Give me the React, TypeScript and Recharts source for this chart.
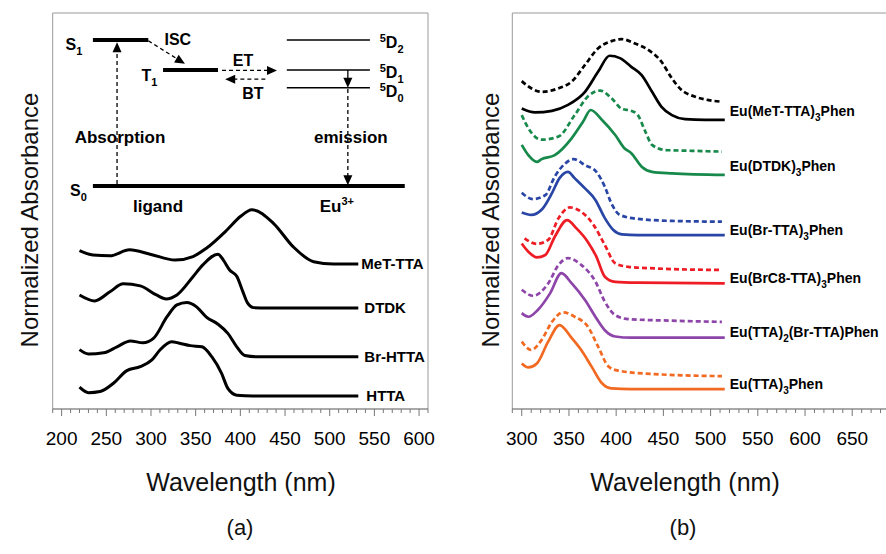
import React from "react";
import { LineChart, Line, XAxis, YAxis, ReferenceLine, ReferenceDot } from "recharts";

const FONT = "'Liberation Sans', Arial, Helvetica, sans-serif";

// ---- panel (a): ligand absorption, offset stacks ----
const mettaWl = [220, 235, 254, 276, 299, 327, 347, 362, 385, 400, 413, 437, 459, 482, 504, 532];
const mettaAbs = [40.0, 38.9, 38.7, 40.2, 39.1, 37.6, 38.5, 40.6, 45.2, 48.6, 50.3, 46.9, 41.0, 37.2, 36.6, 36.6];
const dtdkWl = [220, 237, 254, 269, 288, 306, 317, 329, 347, 358, 375, 381, 388, 396, 403, 408, 415, 430, 532];
const dtdkAbs = [28.8, 27.3, 29.6, 31.6, 31.1, 28.8, 27.8, 28.8, 33.4, 36.4, 39.1, 37.6, 35.1, 33.5, 29.5, 26.8, 25.6, 25.5, 25.5];
const brhttaWl = [220, 230, 247, 262, 277, 291, 303, 318, 329, 340, 351, 362, 375, 386, 396, 405, 418, 532];
const brhttaAbs = [15.0, 13.9, 14.2, 15.7, 17.2, 16.7, 17.9, 23.3, 26.3, 26.9, 25.8, 23.2, 21.4, 19.1, 15.7, 13.5, 13.2, 13.2];
const httaWl = [220, 230, 243, 258, 273, 288, 301, 310, 323, 332, 344, 357, 368, 379, 386, 396, 414, 532];
const httaAbs = [5.5, 4.1, 4.4, 6.5, 9.7, 10.7, 12.4, 14.9, 17.0, 16.6, 16.0, 15.7, 13.2, 9.0, 5.2, 3.5, 3.3, 3.3];
const ligandNames = ["MeT-TTA", "DTDK", "Br-HTTA", "HTTA"];

// ---- panel (b): Eu complexes, solid + dashed pairs ----
const metDashWl = [300, 310, 321, 339, 353, 367, 381, 395, 406, 420, 434, 448, 459, 469, 483, 498, 512];
const metDashAbs = [82.8, 81.0, 80.1, 81.0, 82.7, 86.9, 91.1, 92.9, 93.4, 92.3, 90.7, 87.7, 83.5, 80.6, 78.9, 78.0, 77.6];
const metWl = [300, 314, 332, 349, 367, 381, 393, 404, 416, 427, 438, 448, 459, 473, 494, 515];
const metAbs = [75.9, 74.9, 75.3, 76.8, 80.1, 85.2, 89.2, 88.6, 86.4, 84.3, 80.1, 76.3, 74.2, 73.2, 73.0, 73.0];
const dtdkDashWl = [300, 307, 321, 339, 356, 370, 383, 395, 406, 416, 423, 431, 438, 452, 480, 512];
const dtdkDashAbs = [74.2, 70.9, 68.0, 68.8, 74.2, 78.9, 80.4, 78.5, 75.8, 75.3, 74.2, 70.0, 66.7, 65.4, 65.2, 65.0];
const dtdkCWl = [300, 307, 316, 321, 335, 353, 365, 373, 385, 399, 409, 416, 427, 438, 459, 515];
const dtdkCAbs = [66.7, 64.1, 62.4, 63.1, 64.1, 68.4, 72.6, 75.5, 73.0, 69.2, 65.8, 64.6, 61.2, 59.9, 59.5, 59.1];
const brDashWl = [300, 312, 325, 335, 346, 355, 367, 379, 388, 395, 404, 423, 459, 512];
const brDashAbs = [54.6, 53.0, 54.0, 58.7, 62.0, 63.1, 61.6, 59.9, 56.1, 51.9, 49.0, 48.0, 47.5, 47.3];
const brWl = [300, 310, 321, 332, 340, 349, 356, 367, 378, 388, 397, 406, 423, 515];
const brAbs = [49.6, 49.0, 50.3, 54.5, 58.3, 59.9, 58.3, 55.7, 52.8, 48.2, 45.2, 44.1, 43.9, 43.9];
const brc8DashWl = [303, 316, 328, 339, 351, 363, 376, 388, 399, 413, 441, 512];
const brc8DashAbs = [43.1, 41.7, 42.7, 48.2, 50.9, 49.8, 46.5, 41.4, 36.8, 35.9, 35.5, 35.1];
const brc8Wl = [300, 307, 316, 325, 335, 348, 358, 370, 379, 388, 399, 423, 515];
const brc8Abs = [41.8, 39.7, 38.3, 38.9, 43.5, 47.7, 45.6, 42.2, 38.5, 33.4, 32.1, 31.9, 31.7];
const mixDashWl = [300, 312, 328, 339, 349, 363, 378, 388, 399, 413, 459, 512];
const mixDashAbs = [30.1, 28.6, 31.7, 36.4, 38.1, 36.4, 32.2, 27.1, 23.7, 22.7, 22.3, 22.0];
const mixWl = [300, 307, 317, 330, 342, 353, 367, 378, 388, 399, 416, 515];
const mixAbs = [24.2, 23.3, 25.0, 29.2, 34.3, 31.7, 27.5, 23.3, 19.9, 18.3, 18.0, 18.0];
const ttaDashWl = [300, 310, 321, 332, 344, 356, 370, 381, 392, 402, 441, 512];
const ttaDashAbs = [17.0, 14.9, 17.4, 22.0, 24.4, 23.3, 20.8, 15.7, 10.7, 9.7, 8.8, 8.3];
const ttaWl = [300, 307, 316, 328, 340, 353, 363, 374, 385, 395, 416, 515];
const ttaAbs = [11.5, 10.5, 11.5, 17.0, 21.2, 17.9, 14.9, 10.7, 6.5, 5.2, 5.0, 5.0];

const majorA = [200, 250, 300, 350, 400, 450, 500, 550, 600];
const majorB = [300, 350, 400, 450, 500, 550, 600, 650];
const minorA = Array.from({ length: 43 }, (_, i) => 190 + i * 10);
const minorB = Array.from({ length: 41 }, (_, i) => 290 + i * 10);

const pts = (wl: number[], ab: number[]) => wl.map((x, i) => ({ x, y: ab[i] }));

const panelA = [
  pts(mettaWl, mettaAbs),
  pts(dtdkWl, dtdkAbs),
  pts(brhttaWl, brhttaAbs),
  pts(httaWl, httaAbs),
];
const labelDxA = [3, 6, 6, 8];

const complexes = [
  { name: "Eu(MeT-TTA)", sub: "3", tail: "Phen", color: "#000000", solid: pts(metWl, metAbs), dash: pts(metDashWl, metDashAbs), dy: -4 },
  { name: "Eu(DTDK)", sub: "3", tail: "Phen", color: "#17894b", solid: pts(dtdkCWl, dtdkCAbs), dash: pts(dtdkDashWl, dtdkDashAbs), dy: -4 },
  { name: "Eu(Br-TTA)", sub: "3", tail: "Phen", color: "#2946a6", solid: pts(brWl, brAbs), dash: pts(brDashWl, brDashAbs), dy: 0 },
  { name: "Eu(BrC8-TTA)", sub: "3", tail: "Phen", color: "#ee1c24", solid: pts(brc8Wl, brc8Abs), dash: pts(brc8DashWl, brc8DashAbs), dy: 0 },
  { name: "Eu(TTA)", sub: "2", tail: "(Br-TTA)Phen", color: "#8e45aa", solid: pts(mixWl, mixAbs), dash: pts(mixDashWl, mixDashAbs), dy: -1 },
  { name: "Eu(TTA)", sub: "3", tail: "Phen", color: "#f26a22", solid: pts(ttaWl, ttaAbs), dash: pts(ttaDashWl, ttaDashAbs), dy: 0 },
];

function WaveTick(props: any) {
  const { x, y, payload, major } = props;
  const v = payload.value;
  const isMajor = major.includes(v);
  return (
    <g>
      <line x1={x} x2={x} y1={y} y2={y + (isMajor ? 7 : 4)} stroke="#777" strokeWidth={1} />
      {isMajor && (
        <text x={x} y={y + 36} textAnchor="middle" fontSize={19} fill="#000" fontFamily={FONT}>
          {v}
        </text>
      )}
    </g>
  );
}

// arrow head with tip at the data point, pointing at angle (deg, svg coords)
const arrowHead = (angle: number) => (p: any) => (
  <polygon
    points="0,0 -10,-4.5 -10,4.5"
    fill="#000"
    transform={`translate(${p.cx},${p.cy}) rotate(${angle})`}
  />
);

const boldText = (content: React.ReactNode, size = 16, anchor: any = "middle", dx = 0) => (p: any) => (
  <text
    x={p.cx + dx}
    y={p.cy + size * 0.36}
    textAnchor={anchor}
    fontSize={size}
    fontWeight="bold"
    fontFamily={FONT}
    fill="#000"
  >
    {content}
  </text>
);

const sub = (s: string) => (
  <>
    <tspan dy={5} fontSize={11}>{s}</tspan>
    <tspan dy={-5}>{"\u200a"}</tspan>
  </>
);

const levelLabel = (n: string) => (
  <>
    <tspan fontSize={11} dy={-6}>5</tspan>
    <tspan dy={6}>D</tspan>
    <tspan fontSize={11} dy={5}>{n}</tspan>
  </>
);

const dashed = "4 3";

function PanelA() {
  return (
    <LineChart width={440} height={460} margin={{ top: 13, left: 52.7, right: 12, bottom: 0 }}>
      <XAxis
        dataKey="x"
        type="number"
        domain={[190, 610]}
        allowDataOverflow
        ticks={minorA}
        interval={0}
        tickSize={0}
        tickMargin={0}
        tickLine={false}
        axisLine={{ stroke: "#555" }}
        height={51}
        tick={<WaveTick major={majorA} />}
      />
      <YAxis hide type="number" domain={[0, 100]} allowDataOverflow />
      <ReferenceLine x={190} stroke="#999" ifOverflow="visible" />
      <ReferenceLine x={610} stroke="#999" ifOverflow="visible" />
      <ReferenceLine y={100} stroke="#999" ifOverflow="visible" />

      {/* energy level diagram */}
      <ReferenceLine segment={[{ x: 235, y: 93.2 }, { x: 297, y: 93.2 }]} stroke="#000" strokeWidth={4} />
      <ReferenceLine segment={[{ x: 313.5, y: 85.6 }, { x: 375, y: 85.6 }]} stroke="#000" strokeWidth={4} />
      <ReferenceLine segment={[{ x: 235, y: 56.3 }, { x: 584, y: 56.3 }]} stroke="#000" strokeWidth={4} />
      <ReferenceLine segment={[{ x: 452, y: 93.2 }, { x: 545, y: 93.2 }]} stroke="#000" strokeWidth={1.5} />
      <ReferenceLine segment={[{ x: 452, y: 85.6 }, { x: 545, y: 85.6 }]} stroke="#000" strokeWidth={1.5} />
      <ReferenceLine segment={[{ x: 452, y: 81.1 }, { x: 545, y: 81.1 }]} stroke="#000" strokeWidth={1.5} />
      <ReferenceLine segment={[{ x: 262, y: 56.8 }, { x: 262, y: 90.5 }]} stroke="#000" strokeWidth={1.3} strokeDasharray={dashed} />
      <ReferenceDot x={262} y={92.6} r={0} shape={arrowHead(-90)} />
      <ReferenceLine segment={[{ x: 297, y: 93.0 }, { x: 330, y: 88.3 }]} stroke="#000" strokeWidth={1.3} strokeDasharray={dashed} />
      <ReferenceDot x={338} y={87.2} r={0} shape={arrowHead(31)} />
      <ReferenceLine segment={[{ x: 379.5, y: 85.5 }, { x: 432, y: 85.5 }]} stroke="#000" strokeWidth={1.3} strokeDasharray={dashed} />
      <ReferenceDot x={441} y={85.5} r={0} shape={arrowHead(0)} />
      <ReferenceLine segment={[{ x: 428, y: 83.3 }, { x: 392, y: 83.3 }]} stroke="#000" strokeWidth={1.3} strokeDasharray={dashed} />
      <ReferenceDot x={383} y={83.3} r={0} shape={arrowHead(180)} />
      <ReferenceLine segment={[{ x: 520.3, y: 85.6 }, { x: 520.3, y: 83.2 }]} stroke="#000" strokeWidth={1.3} />
      <ReferenceDot x={520.3} y={81.1} r={0} shape={arrowHead(90)} />
      <ReferenceLine segment={[{ x: 520.3, y: 80.8 }, { x: 520.3, y: 58.6 }]} stroke="#000" strokeWidth={1.3} strokeDasharray={dashed} />
      <ReferenceDot x={520.3} y={56.5} r={0} shape={arrowHead(90)} />

      <ReferenceDot x={214.6} y={92.2} r={0} shape={boldText(<>S{sub("1")}</>)} />
      <ReferenceDot x={299} y={84.3} r={0} shape={boldText(<>T{sub("1")}</>)} />
      <ReferenceDot x={219.5} y={55.3} r={0} shape={boldText(<>S{sub("0")}</>)} />
      <ReferenceDot x={330} y={93.4} r={0} shape={boldText("ISC")} />
      <ReferenceDot x={403} y={88.0} r={0} shape={boldText("ET")} />
      <ReferenceDot x={414} y={79.8} r={0} shape={boldText("BT")} />
      <ReferenceDot x={556} y={92.6} r={0} shape={boldText(levelLabel("2"), 16, "start")} />
      <ReferenceDot x={556} y={85.0} r={0} shape={boldText(levelLabel("1"), 16, "start")} />
      <ReferenceDot x={556} y={80.2} r={0} shape={boldText(levelLabel("0"), 16, "start")} />
      <ReferenceDot x={265.3} y={68.7} r={0} shape={boldText("Absorption", 17)} />
      <ReferenceDot x={523.7} y={68.7} r={0} shape={boldText("emission", 17)} />
      <ReferenceDot x={307.9} y={51.3} r={0} shape={boldText("ligand", 17)} />
      <ReferenceDot
        x={508}
        y={51.3}
        r={0}
        shape={boldText(<>Eu<tspan fontSize={11} dy={-7}>3+</tspan></>, 17)}
      />

      {panelA.map((d, i) => (
        <Line
          key={ligandNames[i]}
          data={d}
          dataKey="y"
          type="monotone"
          dot={false}
          stroke="#000"
          strokeWidth={3}
          isAnimationActive={false}
        />
      ))}
      {panelA.map((d, i) => (
        <ReferenceDot
          key={"lbl" + i}
          x={d[d.length - 1].x}
          y={d[d.length - 1].y}
          r={0}
          shape={boldText(ligandNames[i], 15, "start", labelDxA[i])}
        />
      ))}
    </LineChart>
  );
}

function PanelB() {
  return (
    <LineChart width={460} height={460} margin={{ top: 13, left: 72.3, right: 10, bottom: 0 }}>
      <XAxis
        dataKey="x"
        type="number"
        domain={[290, 690]}
        allowDataOverflow
        ticks={minorB}
        interval={0}
        tickSize={0}
        tickMargin={0}
        tickLine={false}
        axisLine={{ stroke: "#555" }}
        height={51}
        tick={<WaveTick major={majorB} />}
      />
      <YAxis hide type="number" domain={[0, 100]} allowDataOverflow />
      <ReferenceLine x={290} stroke="#999" ifOverflow="visible" />
      <ReferenceLine y={100} stroke="#999" ifOverflow="visible" />
      {complexes.map((c) => (
        <Line
          key={c.name + c.sub + "d"}
          data={c.dash}
          dataKey="y"
          type="monotone"
          dot={false}
          stroke={c.color}
          strokeWidth={2.7}
          strokeDasharray="5 3"
          isAnimationActive={false}
        />
      ))}
      {complexes.map((c) => (
        <Line
          key={c.name + c.sub + "s"}
          data={c.solid}
          dataKey="y"
          type="monotone"
          dot={false}
          stroke={c.color}
          strokeWidth={2.7}
          isAnimationActive={false}
        />
      ))}
      {complexes.map((c, i) => {
        const last = c.solid[c.solid.length - 1];
        return (
          <ReferenceDot
            key={"cl" + i}
            x={last.x}
            y={last.y}
            r={0}
            shape={(p: any) => (
              <text
                x={p.cx + 5}
                y={p.cy + c.dy}
                fontSize={14}
                fontWeight="bold"
                fontFamily={FONT}
                fill="#000"
              >
                {c.name}
                <tspan dy={5} fontSize={10}>{c.sub}</tspan>
                <tspan dy={-5}>{c.tail}</tspan>
              </text>
            )}
          />
        );
      })}
    </LineChart>
  );
}

const titleStyle: React.CSSProperties = {
  position: "absolute",
  whiteSpace: "nowrap",
  fontFamily: FONT,
  color: "#111",
};

export default function App() {
  return (
    <div
      style={{
        position: "absolute",
        left: 0,
        top: 0,
        width: 886,
        height: 554,
        overflow: "hidden",
        background: "#fff",
      }}
    >
      <div style={{ position: "absolute", left: 0, top: 0 }}>
        <PanelA />
      </div>
      <div style={{ position: "absolute", left: 440, top: 0 }}>
        <PanelB />
      </div>
      <div style={{ ...titleStyle, left: 30, top: 220, fontSize: 24, transform: "translate(-50%, -50%) rotate(-90deg)" }}>
        Normalized Absorbance
      </div>
      <div style={{ ...titleStyle, left: 491, top: 220, fontSize: 24, transform: "translate(-50%, -50%) rotate(-90deg)" }}>
        Normalized Absorbance
      </div>
      <div style={{ ...titleStyle, left: 241, top: 482, fontSize: 25, transform: "translate(-50%, -50%)" }}>
        Wavelength (nm)
      </div>
      <div style={{ ...titleStyle, left: 685, top: 482, fontSize: 25, transform: "translate(-50%, -50%)" }}>
        Wavelength (nm)
      </div>
      <div style={{ ...titleStyle, left: 240, top: 528, fontSize: 22, transform: "translate(-50%, -50%)" }}>(a)</div>
      <div style={{ ...titleStyle, left: 683, top: 528, fontSize: 22, transform: "translate(-50%, -50%)" }}>(b)</div>
    </div>
  );
}
